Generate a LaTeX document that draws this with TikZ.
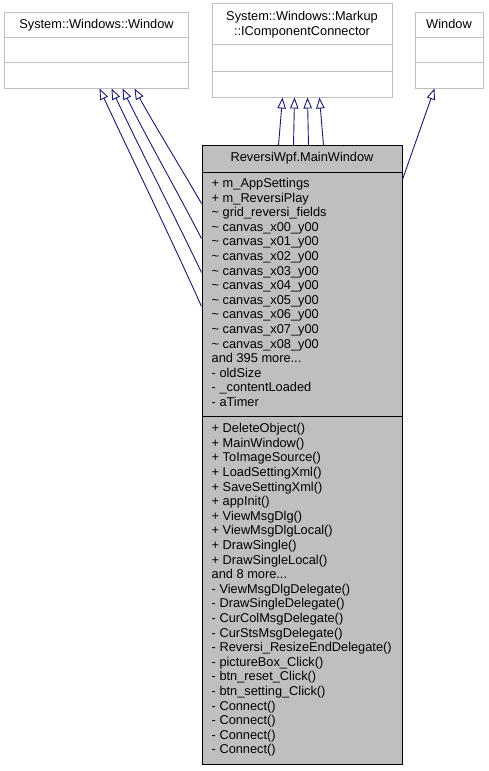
\documentclass[tikz,border=0pt]{standalone}
\usepackage{fontspec}
\setmainfont{Liberation Sans}
\usetikzlibrary{arrows.meta,calc}
\definecolor{edgeblue}{HTML}{191970}
\definecolor{greyss}{HTML}{BFBFBF}
\newcommand{\mydots}{...}
\tikzset{
  txt/.style={inner sep=0pt,font=\fontsize{12.8bp}{14.6bp}\selectfont},
  extbox/.style={draw=greyss,fill=white,line width=1bp,inner sep=0pt},
  mainbox/.style={draw=black,fill=greyss,line width=1bp,inner sep=0pt},
  divext/.style={draw=greyss,line width=1bp},
  divmain/.style={draw=black,line width=1bp},
  inherit/.style={draw=edgeblue,line width=0.9bp,-{Triangle[length=11bp,width=8.5bp,fill=white]}},
}
\begin{document}
\begin{tikzpicture}[x=1bp,y=-1bp]
\useasboundingbox (0,0) rectangle (489,771);
% parent boxes
\node[extbox,minimum width=183bp,minimum height=75bp] (win) at (96.5,50.5) {};
\draw[divext] (5,38) -- (188,38) (5,63) -- (188,63);
\node[txt,anchor=base] (wint) at (96.5,28.3) {System::Windows::Window};

\node[extbox,minimum width=180bp,minimum height=93bp] (icc) at (302,50.5) {};
\draw[divext] (212,45) -- (392,45) (212,71) -- (392,71);
\node[txt,anchor=base] (icct1) at (302,20.6) {System::Windows::Markup};
\node[txt,anchor=base] (icct2) at (302,35.6) {::IComponentConnector};

\node[extbox,minimum width=68bp,minimum height=75bp] (wnd) at (449,50.5) {};
\draw[divext] (415,38) -- (483,38) (415,63) -- (483,63);
\node[txt,anchor=base] (wndt) at (449,28.3) {Window};

% main class box
\node[mainbox,minimum width=200bp,minimum height=618bp] (mw) at (302,455) {};
\draw[divmain] (202,172) -- (402,172) (202,416) -- (402,416);
\node[txt,anchor=base] (mwt) at (302,161.7) {ReversiWpf.MainWindow};

\foreach \t [count=\i] in {{+ m\_AppSettings}, {+ m\_ReversiPlay}, {\textasciitilde{} grid\_reversi\_fields},
  {\textasciitilde{} canvas\_x00\_y00}, {\textasciitilde{} canvas\_x01\_y00}, {\textasciitilde{} canvas\_x02\_y00},
  {\textasciitilde{} canvas\_x03\_y00}, {\textasciitilde{} canvas\_x04\_y00}, {\textasciitilde{} canvas\_x05\_y00},
  {\textasciitilde{} canvas\_x06\_y00}, {\textasciitilde{} canvas\_x07\_y00}, {\textasciitilde{} canvas\_x08\_y00},
  {and 395 more\mydots}, {- oldSize}, {- \_contentLoaded}, {- aTimer}}
  \node[txt,anchor=base west] (attr\i) at (211.5,{187.5+(\i-1)*14.6}) {\t};

\foreach \t [count=\i] in {{+ DeleteObject()}, {+ MainWindow()}, {+ ToImageSource()}, {+ LoadSettingXml()},
  {+ SaveSettingXml()}, {+ appInit()}, {+ ViewMsgDlg()}, {+ ViewMsgDlgLocal()}, {+ DrawSingle()},
  {+ DrawSingleLocal()}, {and 8 more\mydots}, {- ViewMsgDlgDelegate()}, {- DrawSingleDelegate()},
  {- CurColMsgDelegate()}, {- CurStsMsgDelegate()}, {- Reversi\_ResizeEndDelegate()},
  {- pictureBox\_Click()}, {- btn\_reset\_Click()}, {- btn\_setting\_Click()},
  {- Connect()}, {- Connect()}, {- Connect()}, {- Connect()}}
  \node[txt,anchor=base west] (meth\i) at (211.5,{432.7+(\i-1)*14.6}) {\t};

% inheritance to System::Windows::Window
\draw[inherit] ($(mw.north west)+(0,161)$) .. controls (170,236) and (128,150) .. ($(win.south west)+(95,0)$);
\draw[inherit] ($(mw.north west)+(0,127)$) .. controls (173,213) and (137,143) .. ($(win.south west)+(107,0)$);
\draw[inherit] ($(mw.north west)+(0,93)$) .. controls (177,191) and (144,133) .. ($(win.south west)+(118,0)$);
\draw[inherit] ($(mw.north west)+(0,58)$) .. controls (181,168) and (152,121) .. ($(win.south west)+(130,0)$);

% inheritance to IComponentConnector
\draw[inherit] ($(mw.north west)+(77,0)$) -- ($(icc.south west)+(71,0)$);
\draw[inherit] ($(mw.north west)+(92,0)$) -- ($(icc.south west)+(83,0)$);
\draw[inherit] ($(mw.north west)+(107,0)$) -- ($(icc.south west)+(96,0)$);
\draw[inherit] ($(mw.north west)+(122,0)$) -- ($(icc.south west)+(108,0)$);

% inheritance to Window
\draw[inherit] ($(mw.north east)+(0,34)$) -- ($(wnd.south west)+(20,0)$);
\end{tikzpicture}
\end{document}
